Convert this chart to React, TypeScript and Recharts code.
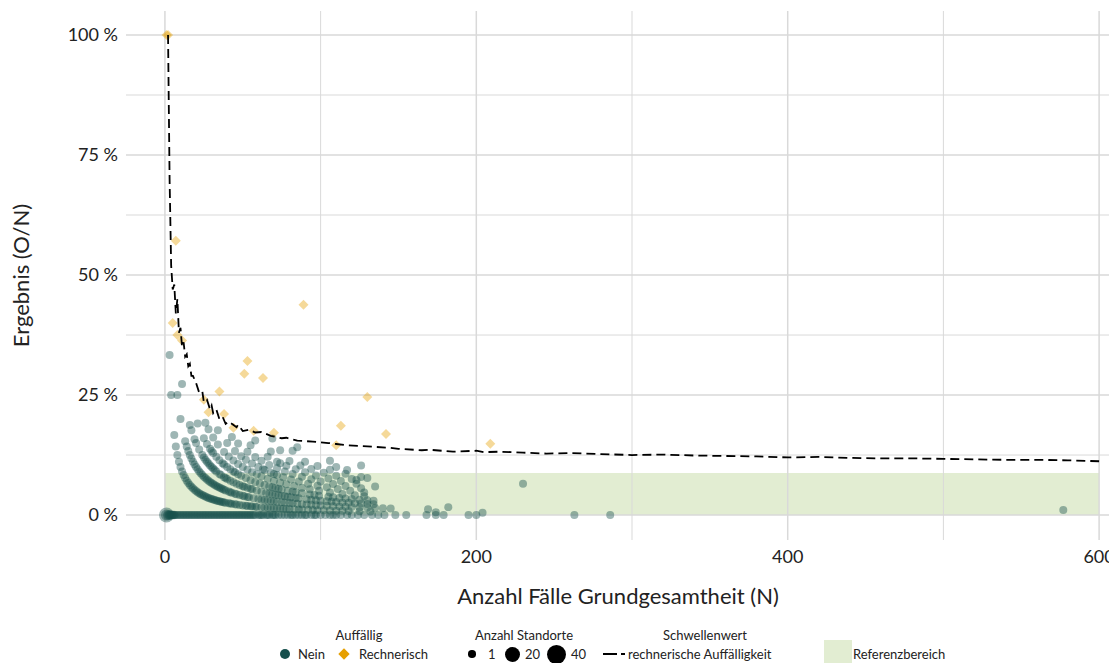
import React from 'react';
import {
  ScatterChart,
  Scatter,
  XAxis,
  YAxis,
  ReferenceArea,
  ReferenceLine
} from 'recharts';

// Achsen
const xTicks = [0, 200, 400, 600];
const yTicks = [0, 25, 50, 75, 100];
const xMinor = [100, 300, 500];
const yMinor = [12.5, 37.5, 62.5, 87.5];
const referenzbereich = [0, 8.75]; // % (O/N)

// Standorte "Nein": Fallzahl N je Anzahl Ereignisse O
const neinO0 = [2, 3, 4, 5, 6, 7, 8, 9, 10, 11, 12, 13, 14, 15, 16, 17, 18, 19, 20, 21, 22, 23, 24, 25, 26, 27, 28, 29, 30, 31, 32, 33, 34, 35, 36, 37, 38, 39, 40, 41, 42, 43, 44, 45, 46, 47, 48, 49, 50, 51, 52, 53, 54, 55, 56, 57, 58, 60, 61, 62, 63, 65, 66, 67, 69, 70, 71, 73, 75, 77, 79, 81, 82, 84, 86, 88, 90, 91, 94, 96, 97, 100, 103, 106, 108, 110, 113, 117, 120, 124, 128, 133, 137, 141, 148, 155, 168, 174, 179, 195, 200, 263, 286];
const neinO1 = [3, 4, 6, 7, 8, 9, 10, 11, 12, 13, 14, 15, 16, 17, 18, 19, 20, 21, 22, 23, 24, 25, 26, 27, 28, 29, 30, 31, 32, 33, 34, 35, 36, 37, 38, 39, 41, 42, 43, 45, 46, 48, 50, 52, 53, 55, 56, 58, 59, 62, 64, 66, 68, 70, 72, 74, 76, 78, 80, 83, 86, 88, 92, 95, 98, 102, 106, 110, 114, 118, 125, 132, 174, 204];
const neinO2 = [8, 10, 13, 14, 15, 16, 17, 18, 19, 20, 21, 22, 23, 24, 25, 26, 27, 28, 29, 30, 31, 32, 33, 34, 35, 36, 37, 38, 39, 41, 42, 43, 45, 46, 48, 50, 51, 53, 54, 57, 60, 62, 64, 66, 68, 70, 72, 75, 77, 80, 82, 85, 88, 91, 94, 97, 100, 104, 108, 112, 116, 120, 125, 130, 135, 140, 145, 169];
const neinO3 = [11, 16, 17, 19, 20, 22, 24, 25, 26, 27, 28, 29, 30, 31, 32, 33, 35, 36, 38, 39, 40, 42, 44, 46, 48, 50, 51, 53, 55, 56, 59, 62, 65, 67, 69, 71, 73, 75, 77, 79, 81, 84, 86, 91, 94, 97, 100, 104, 107, 110, 114, 118, 122, 126, 130, 134, 182];
const neinO4 = [21, 25, 27, 29, 30, 31, 33, 35, 37, 38, 40, 42, 44, 45, 47, 49, 52, 55, 58, 61, 64, 67, 69, 71, 73, 75, 79, 82, 84, 88, 93, 96, 99, 105, 108, 112, 116, 120, 125, 130, 134];
const neinO5 = [26, 28, 31, 34, 38, 41, 44, 47, 50, 53, 56, 59, 62, 66, 70, 74, 78, 83, 88, 93, 99, 106, 114, 122, 128];
const neinO6 = [34, 40, 45, 49, 52, 56, 60, 63, 64, 68, 70, 72, 76, 81, 86, 92, 98, 104, 111, 119, 128, 577];
const neinO7 = [43, 47, 53, 58, 62, 67, 72, 77, 82, 88, 94, 100, 108, 116, 126];
const neinO8 = [55, 66, 72, 74, 78, 84, 90, 97, 105, 113, 123, 135];
const neinO9 = [58, 68, 80, 87, 94, 102, 110, 120, 123];
const neinO10 = [74, 90, 98, 106, 116, 126, 130];
const neinO11 = [69, 82, 110, 117];
const neinO12 = [85, 106];
const neinO13 = [126];
const neinO15 = [230];

// Standorte mit mehreren Einrichtungen: [N, O, Anzahl Standorte]
const neinMehrfach = [[1, 0, 20], [2, 0, 6], [3, 0, 4], [4, 0, 3], [5, 0, 2], [6, 0, 2], [1, 0, 8]];

// rechnerisch auffällig: [N, O]
const rechnerisch = [[2, 2], [1, 1], [7, 4], [5, 2], [8, 3], [11, 4], [53, 17], [51, 15], [63, 18], [89, 39], [35, 9], [25, 6], [130, 32], [38, 8], [28, 6], [44, 8], [57, 10], [70, 12], [113, 21], [142, 24], [110, 16], [209, 31]];

// Schwellenwert rechnerische Auffälligkeit
const schwelleN = [2, 3, 4, 5, 6, 7, 8, 9, 10, 11, 12, 13, 14, 15, 16, 17, 18, 20, 22, 24, 25, 27, 29, 30, 31, 33, 35, 37, 39, 41, 46, 47, 50, 54, 58, 62, 68, 75, 78, 85, 95, 105, 110, 118, 130, 145, 150, 165, 170, 185, 200, 205, 215, 230, 245, 260, 280, 300, 320, 340, 360, 380, 400, 420, 440, 460, 480, 500, 520, 540, 560, 580, 600];
const schwellePct = [100, 70, 52, 47, 48, 42, 45, 38, 39, 35, 36, 33, 33.5, 31, 31.5, 29, 29, 27.5, 25.5, 25.8, 23.5, 24, 22, 22.8, 21.2, 22, 20, 20.5, 19, 19.5, 18.3, 18.8, 17.5, 17.8, 17.2, 17.3, 16.5, 16, 16.1, 15.5, 15.3, 15, 14.8, 14.5, 14.3, 14, 13.8, 13.5, 13.6, 13.2, 13.4, 13.1, 13.2, 13, 12.8, 12.9, 12.7, 12.5, 12.6, 12.4, 12.3, 12.2, 12, 12.1, 11.9, 11.8, 11.8, 11.7, 11.6, 11.5, 11.5, 11.4, 11.2];

const TEAL = '#17504d';
const ORANGE = '#e69f00';
const GRID = '#d9d9d9';
const FONT = "Lato, 'Open Sans', sans-serif";

const neinGruppen: [number, number[]][] = [
  [0, neinO0], [1, neinO1], [2, neinO2], [3, neinO3], [4, neinO4], [5, neinO5], [6, neinO6],
  [7, neinO7], [8, neinO8], [9, neinO9], [10, neinO10], [11, neinO11], [12, neinO12], [13, neinO13], [15, neinO15]
];

const neinData = [
  ...neinGruppen.flatMap(([o, ns]) => ns.map((n) => ({ n, pct: (100 * o) / n, s: 1 }))),
  ...neinMehrfach.map(([n, o, s]) => ({ n, pct: (100 * o) / n, s }))
];
const rechnerischData = rechnerisch.map(([n, o]) => ({ n, pct: (100 * o) / n }));
const schwelleData = schwelleN.map((n, i) => ({ n, pct: schwellePct[i] }));

const radius = (s: number) => Math.sqrt(55.5 + 8.47 * s) / 2;

const NeinDot = (props: any) => {
  const { cx, cy, payload } = props;
  if (cx == null || cy == null) return <g />;
  return <circle cx={cx} cy={cy} r={radius(payload.s)} fill={TEAL} fillOpacity={0.42} />;
};

const Raute = (props: any) => {
  const { cx, cy } = props;
  if (cx == null || cy == null) return <g />;
  const d = 5;
  return (
    <polygon
      points={`${cx},${cy - d} ${cx + d},${cy} ${cx},${cy + d} ${cx - d},${cy}`}
      fill={ORANGE}
      fillOpacity={0.4}
    />
  );
};

const Legende = () => {
  const txt: React.CSSProperties = { position: 'absolute', fontSize: 13, color: '#222', whiteSpace: 'nowrap', lineHeight: '15px' };
  const rowY = 646;
  const titleY = 627;
  const dot = (cx: number, d: number, color: string) => (
    <div style={{ position: 'absolute', left: cx - d / 2, top: rowY - d / 2, width: d, height: d, borderRadius: '50%', background: color }} />
  );
  return (
    <>
      <div style={{ ...txt, left: 351, top: titleY - 7, transform: 'translateX(-50%)' }}>Auffällig</div>
      {dot(277, 10, TEAL)}
      <div style={{ ...txt, left: 290, top: rowY - 7 }}>Nein</div>
      <div style={{ position: 'absolute', left: 335.5 - 4, top: rowY - 4, width: 8, height: 8, background: ORANGE, transform: 'rotate(45deg)' }} />
      <div style={{ ...txt, left: 351, top: rowY - 7 }}>Rechnerisch</div>

      <div style={{ ...txt, left: 516, top: titleY - 7, transform: 'translateX(-50%)' }}>Anzahl Standorte</div>
      {dot(464, 7.5, '#000')}
      <div style={{ ...txt, left: 480, top: rowY - 7 }}>1</div>
      {dot(504, 15, '#000')}
      <div style={{ ...txt, left: 517, top: rowY - 7 }}>20</div>
      {dot(548, 19, '#000')}
      <div style={{ ...txt, left: 563, top: rowY - 7 }}>40</div>

      <div style={{ ...txt, left: 697, top: titleY - 7, transform: 'translateX(-50%)' }}>Schwellenwert</div>
      <div style={{ position: 'absolute', left: 595, top: rowY - 1, width: 14, height: 2, background: '#000' }} />
      <div style={{ position: 'absolute', left: 613, top: rowY - 1, width: 4, height: 2, background: '#000' }} />
      <div style={{ ...txt, left: 620, top: rowY - 7 }}>rechnerische Auffälligkeit</div>

      <div style={{ position: 'absolute', left: 816, top: 632, width: 28, height: 23, background: '#9fc26b', opacity: 0.3 }} />
      <div style={{ ...txt, left: 845, top: rowY - 7 }}>Referenzbereich</div>
    </>
  );
};

export default function App() {
  return (
    <div style={{ position: 'relative', width: 1109, height: 655, fontFamily: FONT, background: '#fff' }}>
      <ScatterChart width={1109} height={610} margin={{ top: 3, right: 7, left: 0, bottom: 0 }}>
        {yMinor.map((v) => (
          <ReferenceLine key={`hm${v}`} y={v} stroke={GRID} strokeWidth={1} />
        ))}
        {xMinor.map((v) => (
          <ReferenceLine key={`vm${v}`} x={v} stroke={GRID} strokeWidth={1} />
        ))}
        {yTicks.map((v) => (
          <ReferenceLine key={`h${v}`} y={v} stroke={GRID} strokeWidth={1.5} />
        ))}
        {xTicks.map((v) => (
          <ReferenceLine key={`v${v}`} x={v} stroke={GRID} strokeWidth={1.5} />
        ))}
        <XAxis
          type="number"
          dataKey="n"
          domain={[-25, 607]}
          ticks={xTicks}
          allowDataOverflow
          axisLine={false}
          tickLine={false}
          tickSize={0}
          tickMargin={10}
          height={78}
          tick={{ fontSize: 18, fill: '#222', fontFamily: FONT }}
          label={{ value: 'Anzahl Fälle Grundgesamtheit (N)', position: 'insideBottom', offset: 14, style: { fontSize: 22, fill: '#222', fontFamily: FONT } }}
        />
        <YAxis
          type="number"
          dataKey="pct"
          domain={[-5.2, 105]}
          ticks={yTicks}
          allowDataOverflow
          axisLine={false}
          tickLine={false}
          tickSize={0}
          tickMargin={8}
          width={118}
          tickFormatter={(v: number) => `${v} %`}
          tick={{ fontSize: 18, fill: '#222', fontFamily: FONT }}
          label={{ value: 'Ergebnis (O/N)', angle: -90, position: 'insideLeft', offset: 13, style: { fontSize: 22, fill: '#222', fontFamily: FONT, textAnchor: 'middle' } }}
        />
        <ReferenceArea
          x1={0}
          x2={600}
          y1={referenzbereich[0]}
          y2={referenzbereich[1]}
          fill="#9fc26b"
          fillOpacity={0.3}
          stroke="none"
        />
        <Scatter data={neinData} shape={NeinDot} isAnimationActive={false} />
        <Scatter data={rechnerischData} shape={Raute} isAnimationActive={false} />
        <Scatter
          data={schwelleData}
          shape={() => <g />}
          line={{ stroke: '#000', strokeWidth: 1.8, strokeDasharray: '9 5' }}
          isAnimationActive={false}
        />
      </ScatterChart>
      <Legende />
    </div>
  );
}
